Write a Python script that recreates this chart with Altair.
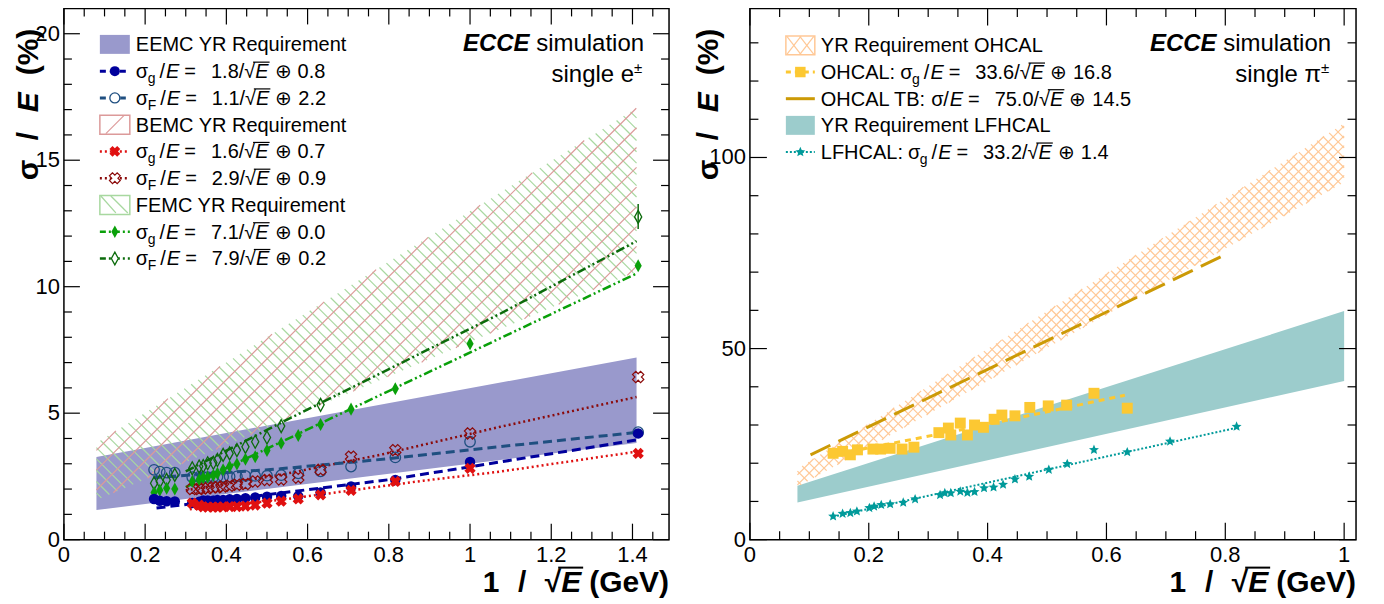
import math
import altair as alt
import pandas as pd

FONT = "Liberation Sans"

# ===================== LEFT PANEL DATA (single e±) =====================
eemc_band_x = [0.08, 1.41]
eemc_band_lo = [1.17, 3.82]
eemc_band_hi = [3.27, 7.20]
bemc_band_x = [0.08, 1.41]
bemc_band_lo = [1.57, 10.60]
bemc_band_hi = [3.82, 17.06]
femc_band_x = [0.08, 1.41]
femc_band_lo = [1.57, 10.60]
femc_band_hi = [3.82, 17.06]

eemc_x = [0.222, 0.236, 0.253, 0.273, 0.316, 0.333, 0.343, 0.354, 0.368, 0.378, 0.392,
          0.408, 0.426, 0.447, 0.471, 0.500, 0.535, 0.577, 0.632, 0.707, 0.816, 1.000, 1.414]
eemc_g = [1.61, 1.54, 1.52, 1.51, 1.45, 1.50, 1.55, 1.55, 1.55, 1.57, 1.57,
          1.60, 1.61, 1.64, 1.67, 1.70, 1.73, 1.72, 1.86, 2.10, 2.36, 3.07, 4.20]
eemc_F = [2.76, 2.69, 2.65, 2.65, 2.47, 2.48, 2.47, 2.47, 2.48, 2.48, 2.49,
          2.50, 2.50, 2.52, 2.52, 2.53, 2.55, 2.62, 2.70, 2.89, 3.25, 3.87, 4.25]
bemc_x = [0.316, 0.333, 0.343, 0.354, 0.368, 0.378, 0.392, 0.408, 0.426, 0.447,
          0.471, 0.500, 0.535, 0.577, 0.632, 0.707, 0.816, 1.000, 1.414]
bemc_g = [1.44, 1.36, 1.30, 1.29, 1.29, 1.29, 1.30, 1.31, 1.31, 1.33,
          1.37, 1.44, 1.52, 1.61, 1.77, 1.95, 2.30, 2.82, 3.41]
bemc_F = [2.00, 2.00, 2.03, 2.03, 2.07, 2.07, 2.10, 2.13, 2.17, 2.20,
          2.30, 2.36, 2.38, 2.45, 2.76, 3.28, 3.54, 4.20, 6.43]
femc_g_x = [0.222, 0.236, 0.253, 0.273, 0.316, 0.333, 0.343, 0.354, 0.368, 0.378, 0.392,
            0.408, 0.426, 0.447, 0.471, 0.500, 0.535, 0.577, 0.632, 0.707, 0.816, 1.000, 1.414]
femc_g = [1.86, 1.95, 2.03, 2.00, 2.30, 2.38, 2.45, 2.48, 2.55, 2.62, 2.76,
          2.89, 2.99, 3.18, 3.28, 3.52, 3.81, 4.12, 4.55, 5.16, 5.97, 7.74, 10.83]
femc_F_x = [0.222, 0.236, 0.253, 0.273, 0.316, 0.333, 0.343, 0.354, 0.368, 0.378, 0.392,
            0.408, 0.426, 0.447, 0.471, 0.500, 0.535, 0.632, 1.414]
femc_F = [2.23, 2.30, 2.36, 2.56, 2.82, 2.89, 2.91, 3.02, 3.04, 3.15, 3.35,
          3.41, 3.54, 3.67, 3.87, 4.04, 4.49, 5.33, 12.76]
femc_F_err_x = [1.414]
femc_F_err_lo = [12.28]
femc_F_err_hi = [13.27]

fit_eemc_g_x = [0.228, 0.532, 0.800, 1.000, 1.410]
fit_eemc_g_y = [1.25, 1.84, 2.37, 2.88, 3.94]
fit_eemc_F_x = [0.220, 0.532, 0.800, 1.070, 1.410]
fit_eemc_F_y = [2.45, 2.80, 3.20, 3.67, 4.24]
fit_bemc_g_x = [0.310, 0.532, 0.885, 1.074, 1.410]
fit_bemc_g_y = [1.20, 1.57, 2.33, 2.69, 3.48]
fit_bemc_F_x = [0.300, 0.532, 0.778, 1.074, 1.410]
fit_bemc_F_y = [1.95, 2.56, 3.35, 4.46, 5.64]
fit_femc_g_x = [0.300, 0.532, 1.074, 1.410]
fit_femc_g_y = [2.08, 3.84, 7.96, 10.52]
fit_femc_F_x = [0.300, 0.532, 1.074, 1.410]
fit_femc_F_y = [2.70, 4.60, 8.93, 11.80]

# ===================== RIGHT PANEL DATA (single π±) =====================
ohcal_band_x = [0.08, 1.00]
ohcal_band_lo = [13.8, 93.5]
ohcal_band_hi = [18.5, 108.9]
lfhcal_band_x = [0.08, 1.00]
lfhcal_band_lo = [9.7, 41.5]
lfhcal_band_hi = [14.1, 59.8]

ohcal_tb_x = [0.102, 0.795]
ohcal_tb_y = [22.2, 74.2]
ohcal_x = [0.140, 0.156, 0.169, 0.181, 0.207, 0.220, 0.236, 0.256, 0.276, 0.318, 0.334, 0.338,
           0.354, 0.366, 0.378, 0.393, 0.411, 0.424, 0.446, 0.471, 0.502, 0.533, 0.579, 0.635]
ohcal_y = [22.6, 23.1, 22.2, 23.5, 23.7, 23.7, 23.9, 23.7, 24.2, 28.0, 29.2, 27.4,
           30.5, 27.4, 30.0, 29.4, 31.5, 32.6, 32.4, 34.6, 35.0, 35.2, 38.3, 34.4]
fit_ohcal_x = [0.134, 0.380, 0.631]
fit_ohcal_y = [22.0, 29.5, 37.8]
lfhcal_x = [0.140, 0.156, 0.169, 0.180, 0.201, 0.209, 0.221, 0.236, 0.258, 0.278, 0.320, 0.328,
            0.338, 0.354, 0.366, 0.378, 0.394, 0.410, 0.426, 0.446, 0.470, 0.503, 0.534, 0.579,
            0.635, 0.707, 0.819]
lfhcal_y = [6.1, 6.8, 7.0, 7.4, 8.3, 8.7, 9.1, 9.3, 9.7, 10.6, 11.7, 12.2,
            12.2, 12.6, 12.3, 12.5, 13.5, 13.7, 14.4, 15.8, 16.5, 18.3, 19.8, 23.5,
            22.9, 25.7, 29.6]
fit_lfhcal_x = [0.140, 0.820]
fit_lfhcal_y = [6.0, 29.3]

# ===================== TEXT =====================
xl_major = [0, 0.2, 0.4, 0.6, 0.8, 1, 1.2, 1.4]
xl_labels = ["0", "0.2", "0.4", "0.6", "0.8", "1", "1.2", "1.4"]
yl_major = [0, 5, 10, 15, 20]
yl_labels = ["0", "5", "10", "15", "20"]
xr_major = [0, 0.2, 0.4, 0.6, 0.8, 1]
xr_labels = ["0", "0.2", "0.4", "0.6", "0.8", "1"]
yr_major = [0, 50, 100]
yr_labels = ["0", "50", "100"]
x_title_parts = ["1", "/", "√", "E", "(GeV)"]
y_title_parts = ["σ", "/", "E", "(%)"]
tag_bold = "ECCE"
tag_rest = "simulation"
left_particle = "single e"
right_particle = "single π"
pm = "±"
left_legend = [
    ("EEMC YR Requirement", None),
    (None, ("", "g", "1.8", "0.8")),
    (None, ("", "F", "1.1", "2.2")),
    ("BEMC YR Requirement", None),
    (None, ("", "g", "1.6", "0.7")),
    (None, ("", "F", "2.9", "0.9")),
    ("FEMC YR Requirement", None),
    (None, ("", "g", "7.1", "0.0")),
    (None, ("", "F", "7.9", "0.2")),
]
right_legend = [
    ("YR Requirement OHCAL", None),
    (None, ("OHCAL:", "g", "33.6", "16.8")),
    (None, ("OHCAL TB:", "", "75.0", "14.5")),
    ("YR Requirement LFHCAL", None),
    (None, ("LFHCAL:", "g", "33.2", "1.4")),
]

# ===================== geometry =====================
WL, WR, H = 606, 607, 532
RX0 = 687
TOTAL_W = RX0 + WR
DXL, DYL = (0.0, 1.49), (0.0, 21.0)
DXR, DYR = (0.0, 1.02), (0.0, 139.0)
XL = alt.Scale(domain=list(DXL), range=[0, WL], nice=False, zero=False)
YL = alt.Scale(domain=list(DYL), range=[H, 0], nice=False, zero=False)
XR = alt.Scale(domain=list(DXR), range=[RX0, RX0 + WR], nice=False, zero=False)
YR = alt.Scale(domain=list(DYR), range=[H, 0], nice=False, zero=False)

DUMMY = pd.DataFrame({"d": [0]})

DIAMOND = "M0,-1L0.55,0L0,1L-0.55,0Z"
_star = []
for _k in range(10):
    _a = math.radians(-90 + 36 * _k)
    _r = 1.0 if _k % 2 == 0 else 0.45
    _star.append(f"{_r * math.cos(_a):.3f},{_r * math.sin(_a):.3f}")
STAR = "M" + "L".join(_star) + "Z"


def band(x, lo, hi, xs, ys, fill):
    df = pd.DataFrame({"x": x, "lo": lo, "hi": hi})
    return alt.Chart(df).mark_area(fill=fill, opacity=1).encode(
        x=alt.X("x:Q", scale=xs, axis=None), y=alt.Y("lo:Q", scale=ys, axis=None), y2="hi:Q")


def hatch(x, lo, hi, dx, dy, W, xs, ys, spacing, direction, color, width):
    """Hatch lines (decoration) clipped to the band polygon, drawn through the data scales."""
    def to_px(a, b):
        return ((a - dx[0]) / (dx[1] - dx[0]) * W, H - (b - dy[0]) / (dy[1] - dy[0]) * H)

    def to_data(px, py):
        return (dx[0] + px / W * (dx[1] - dx[0]), dy[0] + (H - py) / H * (dy[1] - dy[0]))

    poly = [to_px(x[0], lo[0]), to_px(x[-1], lo[-1]), to_px(x[-1], hi[-1]), to_px(x[0], hi[0])]
    cx = sum(p[0] for p in poly) / 4
    cy = sum(p[1] for p in poly) / 4
    if direction == "/":
        d = (1.0, -1.0)
        keys = [p[0] + p[1] for p in poly]
    else:
        d = (1.0, 1.0)
        keys = [p[0] - p[1] for p in poly]
    step = spacing * math.sqrt(2)
    rows = []
    c = math.floor(min(keys) / step) * step
    while c <= max(keys):
        p0 = (0.0, c) if direction == "/" else (0.0, -c)
        t0, t1 = -1e9, 1e9
        ok = True
        for i in range(4):
            a = poly[i]
            b = poly[(i + 1) % 4]
            nx, ny = -(b[1] - a[1]), b[0] - a[0]
            if nx * (cx - a[0]) + ny * (cy - a[1]) < 0:
                nx, ny = -nx, -ny
            num = nx * (p0[0] - a[0]) + ny * (p0[1] - a[1])
            den = nx * d[0] + ny * d[1]
            if abs(den) < 1e-12:
                if num < 0:
                    ok = False
                continue
            t = -num / den
            if den > 0:
                t0 = max(t0, t)
            else:
                t1 = min(t1, t)
        if ok and t1 - t0 > 0.5:
            xa, ya = to_data(p0[0] + t0 * d[0], p0[1] + t0 * d[1])
            xb, yb = to_data(p0[0] + t1 * d[0], p0[1] + t1 * d[1])
            rows.append({"x": xa, "y": ya, "x2": xb, "y2": yb})
        c += step
    return alt.Chart(pd.DataFrame(rows)).mark_rule(color=color, strokeWidth=width).encode(
        x=alt.X("x:Q", scale=xs, axis=None), y=alt.Y("y:Q", scale=ys, axis=None),
        x2="x2:Q", y2="y2:Q")


def line(x, y, xs, ys, **mk):
    df = pd.DataFrame({"x": x, "y": y})
    return alt.Chart(df).mark_line(**mk).encode(
        x=alt.X("x:Q", scale=xs, axis=None), y=alt.Y("y:Q", scale=ys, axis=None))


def pts(x, y, xs, ys, **mk):
    df = pd.DataFrame({"x": x, "y": y})
    return alt.Chart(df).mark_point(opacity=1, **mk).encode(
        x=alt.X("x:Q", scale=xs, axis=None), y=alt.Y("y:Q", scale=ys, axis=None))


def tick_layers(xs, ys, x0, W, xmaj, xmin, ymaj, ymin, big, small):
    xrows, yrows = [], []
    for vals, sz in [(xmaj, big), (xmin, small)]:
        for v in vals:
            xrows.append({"v": v, "p0": H, "p1": H - sz})
            xrows.append({"v": v, "p0": 0, "p1": sz})
    for vals, sz in [(ymaj, big), (ymin, small)]:
        for v in vals:
            yrows.append({"v": v, "p0": x0, "p1": x0 + sz})
            yrows.append({"v": v, "p0": x0 + W, "p1": x0 + W - sz})
    lx = alt.Chart(pd.DataFrame(xrows)).mark_rule(color="black", strokeWidth=1.2).encode(
        x=alt.X("v:Q", scale=xs, axis=None), y=alt.Y("p0:Q", scale=None, axis=None), y2="p1:Q")
    ly = alt.Chart(pd.DataFrame(yrows)).mark_rule(color="black", strokeWidth=1.2).encode(
        y=alt.Y("v:Q", scale=ys, axis=None), x=alt.X("p0:Q", scale=None, axis=None), x2="p1:Q")
    return [lx, ly]


def axis_labels(xs, ys, x0, xvals, xlab, yvals, ylab):
    lx = alt.Chart(pd.DataFrame({"v": xvals, "t": xlab})).mark_text(
        align="center", baseline="alphabetic", font=FONT, fontSize=22, color="black").encode(
        x=alt.X("v:Q", scale=xs, axis=None), y=alt.value(H + 22), text="t:N")
    ly = alt.Chart(pd.DataFrame({"v": yvals, "t": ylab})).mark_text(
        align="right", baseline="middle", font=FONT, fontSize=22, color="black").encode(
        y=alt.Y("v:Q", scale=ys, axis=None), x=alt.value(x0 - 4), text="t:N")
    return [lx, ly]


def titles(x_end, y_base_x):
    yb = H + 52
    fs = 30
    out = [
        alt.Chart(DUMMY).mark_text(align="right", baseline="alphabetic", font=FONT, fontSize=fs,
                                   fontWeight="bold", text=x_title_parts[4], color="black").encode(
            x=alt.value(x_end), y=alt.value(yb)),
        alt.Chart(DUMMY).mark_text(align="right", baseline="alphabetic", font=FONT, fontSize=fs,
                                   fontWeight="bold", fontStyle="italic", text=x_title_parts[3],
                                   color="black").encode(x=alt.value(x_end - 88), y=alt.value(yb)),
        alt.Chart(DUMMY).mark_text(align="right", baseline="alphabetic", font=FONT, fontSize=fs,
                                   fontWeight="bold", text=x_title_parts[2], color="black").encode(
            x=alt.value(x_end - 108), y=alt.value(yb)),
        alt.Chart(DUMMY).mark_rule(color="black", strokeWidth=2).encode(
            x=alt.value(x_end - 111), x2=alt.value(x_end - 86), y=alt.value(yb - 24)),
        alt.Chart(DUMMY).mark_text(align="right", baseline="alphabetic", font=FONT, fontSize=fs,
                                   fontWeight="bold", text=x_title_parts[1], color="black").encode(
            x=alt.value(x_end - 143), y=alt.value(yb)),
        alt.Chart(DUMMY).mark_text(align="right", baseline="alphabetic", font=FONT, fontSize=fs,
                                   fontWeight="bold", text=x_title_parts[0], color="black").encode(
            x=alt.value(x_end - 170), y=alt.value(yb)),
    ]
    starts = [172, 132, 104, 67]
    for part, ys0 in zip(y_title_parts, starts):
        out.append(alt.Chart(DUMMY).mark_text(
            align="left", baseline="alphabetic", font=FONT, fontSize=fs, fontWeight="bold",
            fontStyle="italic" if part == "E" else "normal", angle=270, text=part,
            color="black").encode(x=alt.value(y_base_x), y=alt.value(ys0)))
    return out


WID = {".": .278, ":": .278, " ": .278, "/": .278, "=": .584, "σ": .572, "√": .549, "⊕": .838,
       "A": .667, "B": .667, "C": .722, "D": .722, "E": .667, "F": .611, "G": .778, "H": .722,
       "I": .278, "L": .556, "M": .833, "O": .778, "Q": .778, "R": .722, "T": .611, "V": .667,
       "Y": .667, "a": .556, "b": .556, "c": .5, "d": .556, "e": .556, "f": .278, "g": .556,
       "h": .556, "i": .222, "j": .222, "k": .5, "l": .222, "m": .833, "n": .556, "o": .556,
       "p": .556, "q": .556, "r": .333, "s": .5, "t": .278, "u": .556, "v": .5, "w": .722,
       "x": .5, "y": .5, "z": .5}


def tw(s, size):
    return sum(WID.get(c, .556) for c in s) * size


def build_legend(entries, x_text, y0, dy, size=20):
    normal, italic, overs = [], [], []
    for i, (plain, formula) in enumerate(entries):
        yb = y0 + i * dy + 7
        if plain is not None:
            normal.append({"x": x_text, "y": yb, "t": plain, "s": size})
            continue
        prefix, sub, coef, const = formula
        x = x_text
        if prefix:
            normal.append({"x": x, "y": yb, "t": prefix, "s": size})
            x += tw(prefix, size) + 5
        normal.append({"x": x, "y": yb, "t": "σ", "s": size})
        x += tw("σ", size)
        if sub:
            normal.append({"x": x + 0.5, "y": yb + 5, "t": sub, "s": 14})
            x += tw(sub, 14) + 4.5
        else:
            x += 0.5
        normal.append({"x": x, "y": yb, "t": "/", "s": size})
        x += tw("/", size) + 1
        italic.append({"x": x, "y": yb, "t": "E", "s": size})
        x += tw("E", size) + 5
        normal.append({"x": x, "y": yb, "t": "=", "s": size})
        x += tw("=", size) + 15
        normal.append({"x": x, "y": yb, "t": coef + "/", "s": size})
        x += tw(coef + "/", size)
        normal.append({"x": x, "y": yb, "t": "√", "s": size})
        xs = x
        x += tw("√", size)
        italic.append({"x": x, "y": yb, "t": "E", "s": size})
        x += tw("E", size)
        overs.append({"x1": xs + 0.8 * tw("√", size), "x2": x + 1, "y": yb - 16})
        x += 6
        normal.append({"x": x, "y": yb, "t": "⊕", "s": size})
        x += 17 + 6
        normal.append({"x": x, "y": yb, "t": const, "s": size})
    layers = []
    for rows, style in [(normal, "normal"), (italic, "italic")]:
        layers.append(alt.Chart(pd.DataFrame(rows)).mark_text(
            align="left", baseline="alphabetic", font=FONT, fontStyle=style, color="black").encode(
            x=alt.X("x:Q", scale=None, axis=None), y=alt.Y("y:Q", scale=None, axis=None),
            text="t:N", size=alt.Size("s:Q", scale=None, legend=None)))
    layers.append(alt.Chart(pd.DataFrame(overs)).mark_rule(color="black", strokeWidth=1.2).encode(
        x=alt.X("x1:Q", scale=None, axis=None), x2="x2:Q", y=alt.Y("y:Q", scale=None, axis=None)))
    return layers


def vrule(x1, x2, y, **mk):
    return alt.Chart(DUMMY).mark_rule(**mk).encode(x=alt.value(x1), x2=alt.value(x2), y=alt.value(y))


def seg(x1, y1, x2, y2, **mk):
    return alt.Chart(DUMMY).mark_rule(**mk).encode(x=alt.value(x1), x2=alt.value(x2),
                                                   y=alt.value(y1), y2=alt.value(y2))


def box(x1, x2, y1, y2, **mk):
    return alt.Chart(DUMMY).mark_rect(**mk).encode(x=alt.value(x1), x2=alt.value(x2),
                                                   y=alt.value(y1), y2=alt.value(y2))


def sym(x, y, **mk):
    return alt.Chart(DUMMY).mark_point(opacity=1, **mk).encode(x=alt.value(x), y=alt.value(y))


def tag_layers(x_end, particle):
    y1, y2 = 43, 74
    fs = 24
    return [
        alt.Chart(DUMMY).mark_text(align="right", baseline="alphabetic", font=FONT, fontSize=fs,
                                   text=tag_rest, color="black").encode(x=alt.value(x_end), y=alt.value(y1)),
        alt.Chart(DUMMY).mark_text(align="right", baseline="alphabetic", font=FONT, fontSize=fs,
                                   fontStyle="italic", fontWeight="bold", text=tag_bold, color="black").encode(
            x=alt.value(x_end - tw(" " + tag_rest, fs)), y=alt.value(y1)),
        alt.Chart(DUMMY).mark_text(align="right", baseline="alphabetic", font=FONT, fontSize=fs,
                                   text=particle, color="black").encode(x=alt.value(x_end - 10), y=alt.value(y2)),
        alt.Chart(DUMMY).mark_text(align="left", baseline="alphabetic", font=FONT, fontSize=15,
                                   text=pm, color="black").encode(x=alt.value(x_end - 10), y=alt.value(y2 - 9)),
    ]


C_EEMC = "#9999cc"
C_BLUE = "#00009c"
C_NAVY = "#1f4f80"
C_RED = "#e01010"
C_DRED = "#8b0a0a"
C_GRN = "#0aa00a"
C_DGRN = "#0b6b0b"
C_BEMC_H = "#dc9a9a"
C_FEMC_H = "#a8d8a0"
C_OH_H = "#ffc896"
C_OH = "#fcc832"
C_TB = "#cc9a06"
C_LF_B = "#9ccccc"
C_LF = "#009a9a"

# ===================== LEFT PANEL =====================
xl_minor = [round(0.05 * i, 3) for i in range(30) if i % 4 != 0]
yl_minor = [i for i in range(1, 21) if i % 5 != 0]

left_layers = [
    band(eemc_band_x, eemc_band_lo, eemc_band_hi, XL, YL, C_EEMC),
    hatch(femc_band_x, femc_band_lo, femc_band_hi, DXL, DYL, WL, XL, YL, 8.0, "\\", C_FEMC_H, 1.2),
    hatch(bemc_band_x, bemc_band_lo, bemc_band_hi, DXL, DYL, WL, XL, YL, 14.0, "/", C_BEMC_H, 1.2),
    line(fit_femc_F_x, fit_femc_F_y, XL, YL, color=C_DGRN, strokeWidth=2.5, strokeDash=[9, 3, 2, 3, 2, 3]),
    line(fit_femc_g_x, fit_femc_g_y, XL, YL, color=C_GRN, strokeWidth=2.5, strokeDash=[9, 3, 2, 3, 2, 3]),
    line(fit_bemc_F_x, fit_bemc_F_y, XL, YL, color=C_DRED, strokeWidth=2.5, strokeDash=[2, 3]),
    line(fit_bemc_g_x, fit_bemc_g_y, XL, YL, color=C_RED, strokeWidth=2.5, strokeDash=[2, 3]),
    line(fit_eemc_F_x, fit_eemc_F_y, XL, YL, color=C_NAVY, strokeWidth=3, strokeDash=[9, 5]),
    line(fit_eemc_g_x, fit_eemc_g_y, XL, YL, color=C_BLUE, strokeWidth=3, strokeDash=[9, 5]),
    pts(eemc_x, eemc_F, XL, YL, shape="circle", filled=False, size=110, color=C_NAVY, strokeWidth=1.3),
    pts(bemc_x, bemc_F, XL, YL, shape="cross", angle=45, filled=False, size=130, color=C_DRED, strokeWidth=1.2),
    pts(femc_F_x, femc_F, XL, YL, shape=DIAMOND, filled=False, size=170, color=C_DGRN, strokeWidth=1.3),
    alt.Chart(pd.DataFrame({"x": femc_F_err_x, "lo": femc_F_err_lo, "hi": femc_F_err_hi})).mark_rule(
        color=C_DGRN, strokeWidth=1.5).encode(x=alt.X("x:Q", scale=XL, axis=None),
                                            y=alt.Y("lo:Q", scale=YL, axis=None), y2="hi:Q"),
    pts(femc_g_x, femc_g, XL, YL, shape=DIAMOND, filled=True, size=170, color=C_GRN),
    pts(eemc_x, eemc_g, XL, YL, shape="circle", filled=True, size=110, color=C_BLUE),
    pts(bemc_x, bemc_g, XL, YL, shape="cross", angle=45, filled=True, size=130, color=C_RED),
]
left_layers += tick_layers(XL, YL, 0, WL, xl_major, xl_minor, yl_major, yl_minor, 16, 8)
left_layers += axis_labels(XL, YL, 0, xl_major, xl_labels, yl_major, yl_labels)

# ===================== RIGHT PANEL =====================
xr_minor = [round(0.05 * i, 3) for i in range(21) if i % 4 != 0]
yr_minor = [i for i in range(10, 140, 10) if i % 50 != 0]

right_layers = [
    band(lfhcal_band_x, lfhcal_band_lo, lfhcal_band_hi, XR, YR, C_LF_B),
    hatch(ohcal_band_x, ohcal_band_lo, ohcal_band_hi, DXR, DYR, WR, XR, YR, 7.0, "/", C_OH_H, 1.2),
    hatch(ohcal_band_x, ohcal_band_lo, ohcal_band_hi, DXR, DYR, WR, XR, YR, 7.0, "\\", C_OH_H, 1.2),
    line(ohcal_tb_x, ohcal_tb_y, XR, YR, color=C_TB, strokeWidth=3, strokeDash=[22, 9]),
    line(fit_ohcal_x, fit_ohcal_y, XR, YR, color=C_OH, strokeWidth=3, strokeDash=[6, 5]),
    line(fit_lfhcal_x, fit_lfhcal_y, XR, YR, color=C_LF, strokeWidth=2, strokeDash=[2, 2]),
    pts(ohcal_x, ohcal_y, XR, YR, shape="square", filled=True, size=120, color=C_OH),
    pts(lfhcal_x, lfhcal_y, XR, YR, shape=STAR, filled=True, size=110, color=C_LF),
]
right_layers += tick_layers(XR, YR, RX0, WR, xr_major, xr_minor, yr_major, yr_minor, 17, 8.5)
right_layers += axis_labels(XR, YR, RX0, xr_major, xr_labels, yr_major, yr_labels)

# ===================== pixel-placed decorations (legends, tags, titles, frames) =====================
LY0, LDY = 36.0, 26.8
ly = [LY0 + i * LDY for i in range(9)]
deco = [
    box(0, WL, 0, H, fillOpacity=0, stroke="black", strokeWidth=1.5),
    box(RX0, RX0 + WR, 0, H, fillOpacity=0, stroke="black", strokeWidth=1.5),
    box(36, 66, ly[0] - 9.5, ly[0] + 9.5, fill=C_EEMC),
    vrule(36, 66, ly[1], color=C_BLUE, strokeWidth=3, strokeDash=[6, 4]),
    sym(51, ly[1], shape="circle", filled=True, size=100, color=C_BLUE),
    vrule(36, 66, ly[2], color=C_NAVY, strokeWidth=3, strokeDash=[6, 4]),
    sym(51, ly[2], shape="circle", filled=True, size=120, color="white"),
    sym(51, ly[2], shape="circle", filled=False, size=100, color=C_NAVY, strokeWidth=1.3),
    box(36, 66, ly[3] - 9.5, ly[3] + 9.5, fill="white", stroke=C_BEMC_H, strokeWidth=1.5),
    seg(42, ly[3] + 9, 60, ly[3] - 9, color=C_BEMC_H, strokeWidth=1.2),
    vrule(36, 66, ly[4], color=C_RED, strokeWidth=2.5, strokeDash=[2, 3]),
    sym(51, ly[4], shape="cross", angle=45, filled=True, size=120, color=C_RED),
    vrule(36, 66, ly[5], color=C_DRED, strokeWidth=2.5, strokeDash=[2, 3]),
    sym(51, ly[5], shape="cross", angle=45, filled=True, size=140, color="white"),
    sym(51, ly[5], shape="cross", angle=45, filled=False, size=120, color=C_DRED, strokeWidth=1.2),
    box(36, 66, ly[6] - 9.5, ly[6] + 9.5, fill="white", stroke=C_FEMC_H, strokeWidth=1.5),
    seg(37, ly[6] - 9, 52, ly[6] + 8, color=C_FEMC_H, strokeWidth=1.3),
    seg(47, ly[6] - 9, 64, ly[6] + 8, color=C_FEMC_H, strokeWidth=1.3),
    vrule(36, 66, ly[7], color=C_GRN, strokeWidth=2.5, strokeDash=[6, 3, 2, 3]),
    sym(51, ly[7], shape=DIAMOND, filled=True, size=160, color=C_GRN),
    vrule(36, 66, ly[8], color=C_DGRN, strokeWidth=2.5, strokeDash=[6, 3, 2, 3]),
    sym(51, ly[8], shape=DIAMOND, filled=True, size=190, color="white"),
    sym(51, ly[8], shape=DIAMOND, filled=False, size=160, color=C_DGRN, strokeWidth=1.3),
]
deco += build_legend(left_legend, 72, LY0, LDY)
deco += tag_layers(581, left_particle)
deco += titles(WL, -26)

RY0, RDY = 37.0, 26.7
ry = [RY0 + i * RDY for i in range(5)]
L0 = RX0 + 36
deco += [
    box(L0, L0 + 29, ry[0] - 9.5, ry[0] + 9.5, fill="white", stroke=C_OH_H, strokeWidth=1.5),
    seg(L0 + 1, ry[0] - 9, L0 + 15, ry[0] + 9, color=C_OH_H, strokeWidth=1.2),
    seg(L0 + 1, ry[0] + 9, L0 + 15, ry[0] - 9, color=C_OH_H, strokeWidth=1.2),
    seg(L0 + 14, ry[0] - 9, L0 + 28, ry[0] + 9, color=C_OH_H, strokeWidth=1.2),
    seg(L0 + 14, ry[0] + 9, L0 + 28, ry[0] - 9, color=C_OH_H, strokeWidth=1.2),
    vrule(L0, L0 + 29, ry[1], color=C_OH, strokeWidth=3, strokeDash=[5, 4]),
    sym(L0 + 14.5, ry[1], shape="square", filled=True, size=110, color=C_OH),
    vrule(L0, L0 + 29, ry[2], color=C_TB, strokeWidth=3),
    box(L0, L0 + 29, ry[3] - 9.5, ry[3] + 9.5, fill=C_LF_B),
    vrule(L0, L0 + 29, ry[4], color=C_LF, strokeWidth=2, strokeDash=[2, 2]),
    sym(L0 + 14.5, ry[4], shape=STAR, filled=True, size=110, color=C_LF),
]
deco += build_legend(right_legend, RX0 + 71, RY0, RDY)
deco += tag_layers(RX0 + 582, right_particle)
deco += titles(RX0 + WR, RX0 - 32)

left = alt.layer(*left_layers)
right = alt.layer(*right_layers)
decor = alt.layer(*deco)

chart = alt.layer(left, right, decor).resolve_scale(
    x="independent", y="independent"
).properties(
    width=TOTAL_W, height=H,
    autosize=alt.AutoSizeParams(type="none"),
    padding={"left": 56, "top": 0, "right": 20, "bottom": 62},
    background="white",
).configure_view(strokeWidth=0)

chart.save("out.html", embed_options={"renderer": "svg", "actions": False})
